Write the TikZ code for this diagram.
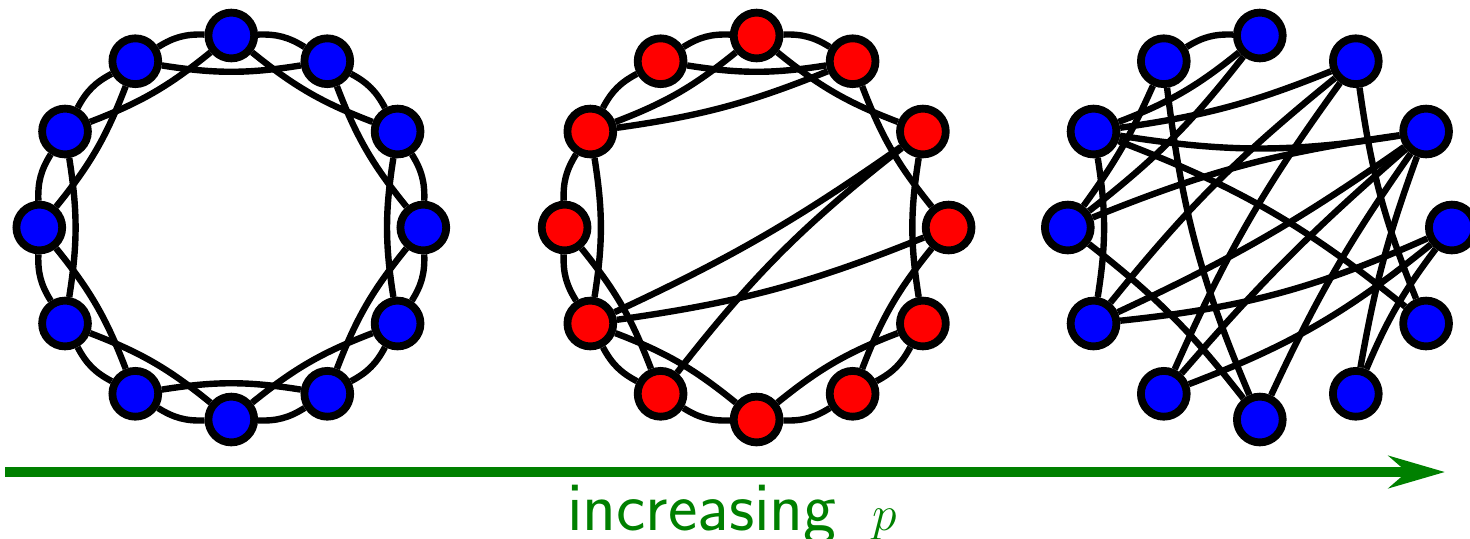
\documentclass[tikz,border=0pt]{standalone}
\usetikzlibrary{arrows.meta,backgrounds}

\begin{document}
\begin{tikzpicture}[
  x=0.5pt, y=-0.5pt,
  vtx/.style={circle,draw=black,line width=3.9pt,minimum size=22.9pt,inner sep=0pt},
  link/.style={line width=3.2pt},
  nbr/.style={bend right=17},
  hop/.style={bend left=9},
  arr/.style={-{Stealth[length=28pt,width=16pt,inset=9pt]},line width=5pt,draw=green!50!black}
]
\useasboundingbox (0,0) rectangle (1470,538);

% the three graphs: regular ring, a few rewired, random
\foreach \i in {0,...,11} {
  \node[vtx,fill=blue] (a\i) at ([shift={(231.3,227.5)}]-30*\i:192) {};
  \node[vtx,fill=red] (b\i) at ([shift={(756.6,227.5)}]-30*\i:192) {};
  \node[vtx,fill=blue] (c\i) at ([shift={(1259.8,227.5)}]-30*\i:192) {};
}

\begin{scope}[on background layer]
% ring lattice
\foreach \i in {0,...,11} {
  \pgfmathtruncatemacro{\j}{mod(\i+1,12)}
  \pgfmathtruncatemacro{\k}{mod(\i+2,12)}
  \draw[link] (a\i) to[nbr] (a\j);
  \draw[link] (a\i) to[hop] (a\k);
}
% small p
\foreach \i in {2,...,10} {
  \pgfmathtruncatemacro{\j}{\i+1}
  \draw[link] (b\i) to[nbr] (b\j);
}
\foreach \i in {0,1,2,3,5,6,7,9,10,11} {
  \pgfmathtruncatemacro{\k}{mod(\i+2,12)}
  \draw[link] (b\i) to[hop] (b\k);
}
\draw[link] (b5) to[bend right=7] (b2);
\draw[link] (b7) to[bend right=5] (b1);
\draw[link] (b7) to[bend right=7] (b0);
\draw[link] (b8) to[bend left=7] (b1);
% p = 1
\draw[link] (c3) to[nbr] (c4);
\foreach \u/\v/\b in {3/5/9, 3/6/7, 4/6/6, 4/9/-8, 2/5/7, 1/5/9, 5/11/9, 5/7/9,
    1/6/-7, 6/9/7, 2/7/-6, 2/8/-6, 11/2/7, 1/7/5, 1/8/-4, 1/9/-5, 1/10/-5,
    0/7/9, 0/8/9, 0/10/-7}
  \draw[link] (c\u) to[bend left=\b] (c\v);
\end{scope}

% axis
\coordinate (s) at (5,472);
\coordinate (e) at (1445,472);
\draw[arr] (s) -- (e);
\node[anchor=base,text=green!50!black,font=\sffamily\fontsize{35}{42}\selectfont] (lbl) at (732,530) {increasing\hspace{7pt} $p$};
\end{tikzpicture}
\end{document}
